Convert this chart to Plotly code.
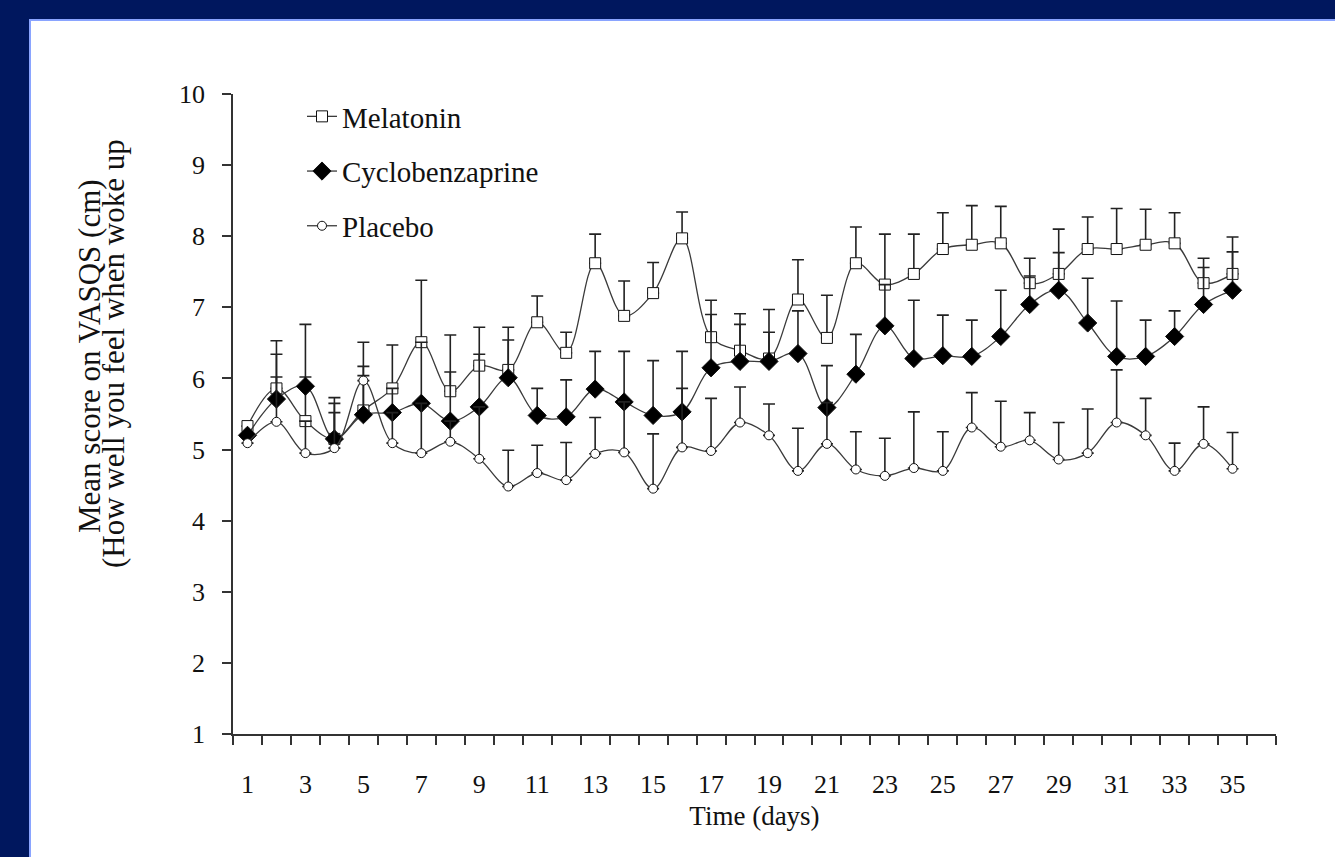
import plotly.graph_objects as go

# Daily mean VASQS scores (cm) with standard errors, days 1-35
days = list(range(1, 36))

melatonin = [5.33, 5.86, 5.40, 5.15, 5.55, 5.86, 6.51, 5.82, 6.18, 6.12,
             6.79, 6.36, 7.62, 6.88, 7.20, 7.97, 6.58, 6.39, 6.28, 7.11,
             6.57, 7.62, 7.32, 7.47, 7.82, 7.88, 7.90, 7.34, 7.47, 7.82,
             7.82, 7.88, 7.90, 7.34, 7.47]
melatonin_se = [None, 0.67, 0.62, 0.58, 0.62, 0.61, 0.87, 0.79, 0.54, 0.60,
                0.37, 0.29, 0.41, 0.49, 0.43, 0.37, 0.52, 0.52, 0.69, 0.56,
                0.60, 0.51, 0.71, 0.56, 0.51, 0.55, 0.52, 0.35, 0.63, 0.45,
                0.57, 0.50, 0.43, 0.35, 0.52]

cyclobenzaprine = [5.20, 5.71, 5.89, 5.15, 5.49, 5.52, 5.65, 5.40, 5.60, 6.01,
                   5.48, 5.46, 5.85, 5.67, 5.48, 5.53, 6.15, 6.24, 6.24, 6.35,
                   5.59, 6.06, 6.74, 6.28, 6.32, 6.31, 6.59, 7.04, 7.24, 6.78,
                   6.31, 6.31, 6.59, 7.04, 7.24]
cyclobenzaprine_se = [None, 0.63, 0.87, 0.50, 0.55, 0.34, 0.86, 0.69, 0.74, 0.53,
                      0.38, 0.52, 0.53, 0.71, 0.77, 0.85, 0.75, 0.52, 0.41, 0.60,
                      0.59, 0.56, 0.58, 0.82, 0.57, 0.51, 0.65, 0.40, 0.53, 0.63,
                      0.78, 0.51, 0.36, 0.52, 0.54]

placebo = [5.09, 5.39, 4.95, 5.02, 5.97, 5.09, 4.95, 5.11, 4.87, 4.48,
           4.67, 4.57, 4.94, 4.96, 4.45, 5.03, 4.98, 5.38, 5.20, 4.70,
           5.08, 4.72, 4.63, 4.74, 4.70, 5.31, 5.04, 5.13, 4.86, 4.95,
           5.38, 5.20, 4.70, 5.08, 4.73]
placebo_se = [None, 0.63, 0.45, 0.50, 0.54, 0.43, 0.70, 0.29, 0.73, 0.51,
              0.39, 0.53, 0.51, 0.71, 0.77, 0.83, 0.74, 0.50, 0.44, 0.60,
              0.58, 0.53, 0.53, 0.79, 0.55, 0.49, 0.64, 0.39, 0.52, 0.62,
              0.74, 0.52, 0.39, 0.52, 0.51]

x_labels = list(range(1, 36, 2))
y_ticks = list(range(1, 11))

SERIF = "Liberation Serif, Times New Roman, serif"
NAVY = "#00175e"

# figure geometry (pixels)
W, H = 1335, 857
L, R, T, B = 233, 59, 94, 123
pw, ph = W - L - R, H - T - B


def px_x(p):
    return (p - L) / pw


def px_y(p):
    return (H - B - p) / ph


def series(name, y, se, symbol, size, fill, group):
    return go.Scatter(
        x=days, y=y, name=name, mode="lines+markers",
        legendgroup=group,
        line=dict(color="#3a3a3a", width=1.3, shape="spline", smoothing=1.0),
        marker=dict(symbol=symbol, size=size, color=fill,
                    line=dict(color="#111111", width=1)),
        error_y=dict(type="data", array=se, arrayminus=[0] * len(se),
                     symmetric=False, color="#222222", thickness=1.6, width=6),
    )


fig = go.Figure()
fig.add_trace(series("Melatonin", melatonin, melatonin_se, "square", 11, "white", "m"))
fig.add_trace(series("Cyclobenzaprine", cyclobenzaprine, cyclobenzaprine_se, "diamond", 14, "black", "c"))
fig.add_trace(series("Placebo", placebo, placebo_se, "circle", 9, "white", "p"))

# slide frame: navy surround with a white panel edged in light blue
fig.add_shape(type="rect", xref="paper", yref="paper", layer="below",
              x0=px_x(30), x1=px_x(W + 10), y0=px_y(H + 10), y1=px_y(20),
              fillcolor="white", line=dict(color="#8aa4ff", width=2))

fig.add_annotation(text="Mean score on VASQS (cm)", textangle=-90,
                   xref="paper", yref="paper", x=px_x(89), y=px_y(356),
                   xanchor="center", yanchor="middle",
                   showarrow=False, font=dict(family=SERIF, size=31, color="#111111"))
fig.add_annotation(text="(How well you feel when woke up", textangle=-90,
                   xref="paper", yref="paper", x=px_x(113), y=px_y(354),
                   xanchor="center", yanchor="middle",
                   showarrow=False, font=dict(family=SERIF, size=31, color="#111111"))

fig.update_layout(
    width=W, height=H,
    margin=dict(l=L, r=R, t=T, b=B, pad=0),
    paper_bgcolor=NAVY, plot_bgcolor="rgba(0,0,0,0)",
    font=dict(family=SERIF, color="#111111"),
    showlegend=True,
    legend=dict(x=px_x(302), y=px_y(91), xanchor="left", yanchor="top",
                bgcolor="rgba(0,0,0,0)", traceorder="grouped", tracegroupgap=14,
                font=dict(family=SERIF, size=29, color="#111111"),
                itemwidth=30),
    xaxis=dict(
        range=[0.5, 36.5], showgrid=False, zeroline=False,
        showline=True, linecolor="#333333", linewidth=1.5,
        tickmode="array", tickvals=x_labels, ticktext=[str(v) for v in x_labels],
        ticks="", ticklabelstandoff=26,
        tickfont=dict(family=SERIF, size=26, color="#111111"),
        minor=dict(tickmode="array", tickvals=[d + 0.5 for d in range(0, 37)],
                   ticks="outside", ticklen=9, tickwidth=1.5, tickcolor="#333333"),
        title=dict(text="Time (days)", standoff=8,
                   font=dict(family=SERIF, size=27, color="#111111")),
    ),
    yaxis=dict(
        range=[1, 10], showgrid=False, zeroline=False,
        showline=True, linecolor="#333333", linewidth=1.5,
        tickmode="array", tickvals=y_ticks,
        ticks="outside", ticklen=9, tickwidth=1.5, tickcolor="#333333",
        ticklabelstandoff=12,
        tickfont=dict(family=SERIF, size=26, color="#111111"),
    ),
)

fig.write_html("out.html")
